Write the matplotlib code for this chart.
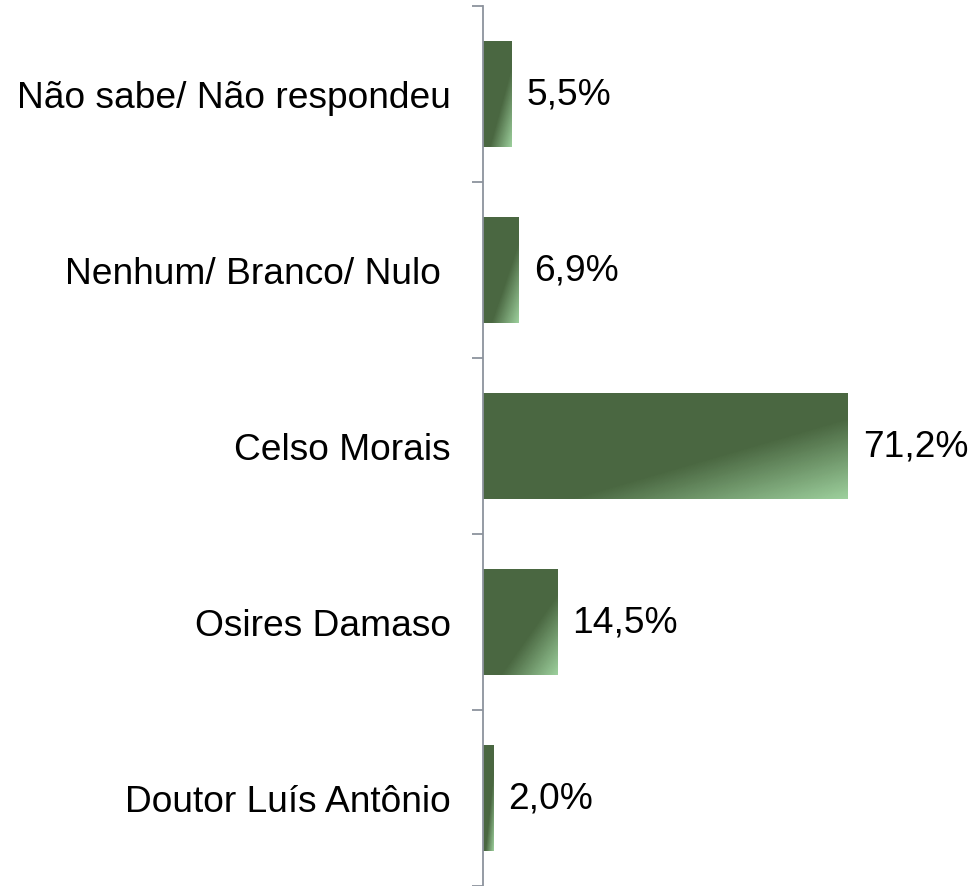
import numpy as np
import matplotlib as mpl
mpl.use('Agg')
import matplotlib.pyplot as plt
from matplotlib.colors import LinearSegmentedColormap

plt.rcParams['font.family'] = ['Liberation Sans', 'DejaVu Sans']

# data, listed bottom to top
categories = ['Doutor Luís Antônio', 'Osires Damaso', 'Celso Morais',
              'Nenhum/ Branco/ Nulo ', 'Não sabe/ Não respondeu']
values = [2.0, 14.5, 71.2, 6.9, 5.5]
value_labels = ['2,0%', '14,5%', '71,2%', '6,9%', '5,5%']

dark = '#4a6741'
light = '#9dd09d'
cmap = LinearSegmentedColormap.from_list('bar', [(0, dark), (0.62, dark), (1, light)])

fig = plt.figure(figsize=(9.75, 8.87), dpi=100)
ax = fig.add_axes([483 / 975, 0, 1 - 483 / 975, 1 - 7 / 887])

ypos = np.arange(len(categories))
bars = ax.barh(ypos, values, height=0.6, color=dark, edgecolor='none')

# diagonal gradient, light in the lower right corner of each bar
n = 400
u = np.linspace(0, 1, n)
r = np.linspace(0, 1, n)
U, R = np.meshgrid(u, r)
grad = (U + (1 - R)) / 2
for b in bars:
    x0, y0 = b.get_x(), b.get_y()
    w, h = b.get_width(), b.get_height()
    im = ax.imshow(grad, cmap=cmap, vmin=0, vmax=1, origin='lower', aspect='auto',
                   extent=[x0, x0 + w, y0, y0 + h], interpolation='nearest', zorder=2)
    im.set_clip_path(b)

for y, v, lab in zip(ypos, values, value_labels):
    ax.annotate(lab, (v, y), xytext=(11, 0), textcoords='offset points',
                va='center', ha='left', fontsize=26.7)

ax.set_xlim(0, 96)
ax.set_ylim(-0.5, len(categories) - 0.5)

ax.set_yticks(ypos)
ax.set_yticklabels(categories, fontsize=26.7)
ax.tick_params(axis='y', which='major', length=0, pad=23)
ax.set_yticks(np.arange(-0.5, len(categories), 1.0), minor=True)
ax.tick_params(axis='y', which='minor', length=8, width=1.3, color='#8c939d', direction='out')
ax.set_xticks([])

for s in ['top', 'right', 'bottom']:
    ax.spines[s].set_visible(False)
ax.spines['left'].set_color('#8c939d')
ax.spines['left'].set_linewidth(1.3)

fig.savefig('out.png', dpi=100)
